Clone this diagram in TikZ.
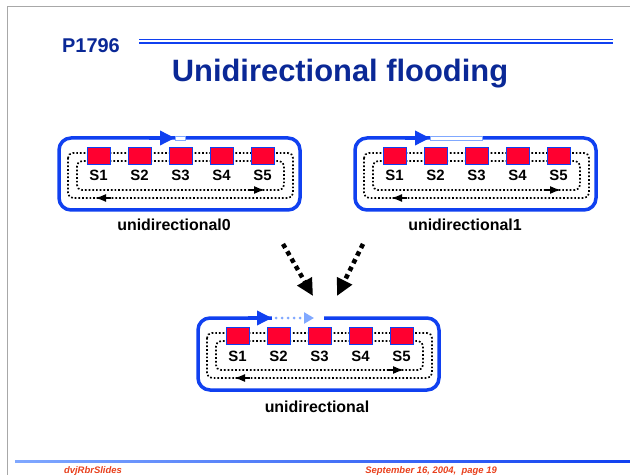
\documentclass[tikz,border=0pt]{standalone}
\usepackage{fontspec}
\setmainfont{Liberation Sans}
\usetikzlibrary{arrows.meta,positioning,calc}
\definecolor{ringblue}{HTML}{1040F0}
\definecolor{titleblue}{HTML}{0A2896}
\definecolor{litblue}{HTML}{80A8FF}
\definecolor{stationred}{HTML}{FF0030}
\definecolor{footred}{HTML}{E8401C}
\definecolor{framegray}{HTML}{A8A8A8}
\tikzset{
  ring/.style={draw=ringblue, line width=3.5bp, rounded corners=12bp},
  station/.style={rectangle, draw=ringblue, line width=0.6bp, fill=stationred,
                  minimum width=23bp, minimum height=17bp, inner sep=0pt},
  slabel/.style={font=\bfseries\fontsize{15}{15}\selectfont, anchor=base, inner sep=0pt},
  caption/.style={font=\bfseries\fontsize{16}{16}\selectfont, anchor=base, inner sep=0pt},
  loopdot/.style={line width=1.7bp, dash pattern=on 1.7bp off 2bp, rounded corners=5bp},
  looptip/.style={-{Latex[length=11bp,width=8bp]}, line width=1.7bp},
  ringtip/.style={draw=ringblue, line width=3.5bp, -{Triangle[length=15bp,width=14bp]}},
  ringgap/.style={fill=white, draw=litblue, line width=0.5bp},
  bigdot/.style={line width=4.5bp, dash pattern=on 4.5bp off 4bp,
                 -{Triangle[length=17bp,width=16bp]}},
  footer/.style={font=\bfseries\itshape\fontsize{9.5}{9.5}\selectfont, text=footred, inner sep=0pt},
}
% one ring of five stations, drawn in a shifted scope
\newcommand{\ringunit}[1]{%
  \draw[ring] (0,0) rectangle (241,72);
  \draw[loopdot] (9,15) rectangle (234,60);
  \draw[loopdot] (18,23) rectangle (225,52);
  \draw[looptip] (52,60) -- (36,60);
  \draw[looptip] (190,52) -- (206,52);
  \foreach \i in {1,...,5} {
    \node[station] (#1s\i) at ({39.5+41*(\i-1)},17.5) {};
    \node[slabel] (#1l\i) at ($(#1s\i)+(0,25.5)$) {S\i};
  }
}
\begin{document}
\begin{tikzpicture}[x=1bp, y=-1bp]
  \useasboundingbox (0,0) rectangle (630,475);
  \draw[framegray, line width=1bp] (7,475) -- (7,7) -- (630,7);

  \node[anchor=base west, inner sep=0pt, text=titleblue, font=\bfseries\fontsize{20}{20}\selectfont] (slideid) at (62,53) {P1796};
  \draw[ringblue, line width=1.2bp] (139,39.5) -- (613,39.5);
  \draw[ringblue, line width=2.5bp] (139,43) -- (613,43);
  \node[anchor=base, inner sep=0pt, text=titleblue, font=\bfseries\fontsize{31}{31}\selectfont] (title) at (340,82) {Unidirectional flooding};

  \begin{scope}[shift={(59,138)}]
    \ringunit{a}
    \draw[ringgap] (116,-2) rectangle (126,2);
    \draw[ringtip] (90,0) -- (116,0);
  \end{scope}
  \node[caption] (capa) at (174,231) {unidirectional0};

  \begin{scope}[shift={(355,138)}]
    \ringunit{b}
    \draw[ringgap] (75,-2) rectangle (127,2);
    \draw[ringtip] (50,0) -- (75,0);
  \end{scope}
  \node[caption] (capb) at (465,231) {unidirectional1};

  \begin{scope}[shift={(198,318)}]
    \ringunit{c}
    \fill[white] (74,-2.5) rectangle (126,2.5);
    \draw[litblue, line width=3bp, dash pattern=on 0pt off 6bp, line cap=round,
          -{Triangle[length=10bp,width=11bp]}] (78,0) -- (116,0);
    \draw[ringtip] (50,0) -- (74,0);
  \end{scope}
  \node[caption] (capc) at (317,412) {unidirectional};

  \coordinate (froma) at (283,244);
  \coordinate (toa) at (313,296);
  \coordinate (fromb) at (363,244);
  \coordinate (tob) at (337,296);
  \draw[bigdot] (froma) -- (toa);
  \draw[bigdot] (fromb) -- (tob);

  \shade[left color=litblue, right color=ringblue] (15,460) rectangle (630,462);
  \node[footer, anchor=base] (footl) at (93,473) {dvjRbrSlides};
  \node[footer, anchor=base east] (footr) at (497,473) {September 16, 2004,\ \ page 19};
\end{tikzpicture}
\end{document}
